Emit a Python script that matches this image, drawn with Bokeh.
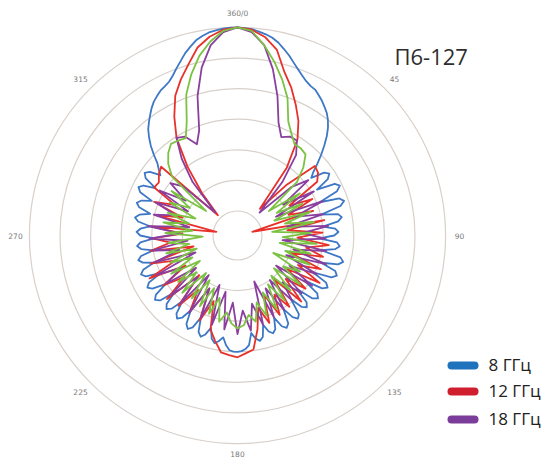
import numpy as np
from bokeh.plotting import figure
from bokeh.models import Range1d
from bokeh.embed import file_html
from bokeh.resources import INLINE
from bokeh.core.properties import value

# ---------------- data (dB) ----------------
# 8 GHz is read at a 2 degree step, the others at a 4 degree step
angles_8ghz = list(range(0, 360, 2))
angles_deg = list(range(0, 360, 4))

gain_8ghz = [
    0, -0.1, -0.2, -0.5, -0.8, -1.2, -1.8, -2.6, -3.4, -4.3,
    -5.1, -5.8, -6.4, -6.8, -7.0, -7.5, -8.0, -8.6, -9.2, -10.0,
    -11.0, -12.2, -13.6, -15.0, -16.4, -17.8, -18.7, -16.5, -15.9, -16.6,
    -19.0, -16.0, -15.4, -16.2, -19.5, -16.3, -15.7, -16.5, -19.9, -17.2,
    -16.7, -17.4, -20.0, -18.0, -17.5, -18.2, -20.6, -17.7, -17.2, -17.9,
    -20.1, -16.8, -16.2, -16.9, -19.6, -17.0, -16.5, -17.2, -20.3, -17.6,
    -17.0, -17.7, -20.8, -17.9, -17.3, -18.0, -21.0, -18.3, -17.7, -18.3,
    -20.4, -17.7, -17.2, -17.9, -19.8, -17.4, -16.9, -17.5, -19.3, -17.5,
    -17.0, -17.5, -18.8, -16.9, -16.4, -16.9, -17.9, -16.0, -15.4, -15.1,
    -15.0, -15.0, -15.2, -16.0, -17.2, -16.5, -16.0, -16.6, -18.3, -17.0,
    -16.4, -17.0, -19.3, -17.3, -16.7, -17.3, -19.6, -17.8, -17.2, -17.8,
    -20.0, -17.9, -17.3, -17.9, -20.2, -17.5, -16.9, -17.5, -19.8, -17.6,
    -17.0, -17.6, -20.1, -17.6, -17.0, -17.6, -19.6, -17.9, -17.3, -17.9,
    -20.0, -18.1, -17.5, -18.1, -20.3, -18.1, -17.5, -18.1, -19.6, -17.6,
    -17.0, -17.6, -19.3, -17.3, -16.7, -17.3, -18.9, -16.6, -16.0, -16.6,
    -18.5, -16.3, -15.7, -16.3, -18.0, -17.2, -16.4, -15.0, -13.6, -12.4,
    -11.3, -10.5, -9.7, -8.9, -8.2, -7.7, -7.2, -6.9, -6.5, -5.8,
    -4.9, -4.0, -3.0, -2.2, -1.4, -0.9, -0.5, -0.3, -0.1, 0,
]

gain_12ghz = [
    0, -0.3, -1.3, -3.0, -6.2, -8.3, -10.6, -12.8, -15.5, -20.3,
    -28.3, -22.6, -17.0, -17.3, -18.3, -24.2, -20.4, -25.0, -21.0, -31.5,
    -19.6, -25.8, -20.1, -24.2, -19.0, -22.6, -19.6, -25.0, -19.3, -23.0,
    -18.5, -24.2, -19.9, -23.4, -19.0, -24.6, -19.6, -22.6, -19.3, -23.4,
    -18.8, -21.7, -18.3, -15.2, -14.7, -14.1, -14.4, -14.7, -16.4, -18.0,
    -22.6, -18.8, -24.2, -19.3, -23.0, -19.0, -25.0, -18.5, -23.0, -19.4,
    -24.2, -18.0, -23.0, -19.1, -26.6, -19.6, -23.0, -20.1, -25.0, -19.8,
    -30.5, -20.1, -24.6, -19.3, -22.6, -18.3, -18.5, -17.7, -17.2, -29.4,
    -25.0, -20.1, -15.2, -12.0, -9.0, -6.9, -4.9, -2.6, -1.2, -0.3,
]

gain_green = [
    0, -0.5, -2.6, -5.0, -7.5, -10.1, -13.6, -15.2, -16.4, -16.4,
    -16.7, -18.5, -20.9, -27.5, -21.7, -26.6, -22.2, -27.5, -21.5, -26.0,
    -21.3, -28.3, -22.0, -26.6, -21.0, -27.0, -21.7, -25.8, -21.3, -27.5,
    -22.2, -25.0, -21.0, -26.0, -21.5, -25.4, -20.9, -24.6, -20.4, -23.8,
    -20.1, -22.6, -19.6, -20.9, -19.3, -18.8, -19.6, -21.3, -19.6, -23.4,
    -20.4, -24.6, -20.9, -25.4, -21.3, -26.0, -21.0, -25.0, -21.7, -26.6,
    -21.5, -25.8, -22.2, -27.0, -22.0, -26.0, -22.6, -28.3, -22.2, -26.6,
    -21.7, -25.8, -22.0, -26.6, -21.7, -25.0, -21.0, -27.5, -19.6, -17.7,
    -16.4, -15.5, -15.7, -16.0, -13.6, -9.5, -6.6, -4.0, -2.0, -0.5,
]

gain_18ghz = [
    0, -0.7, -2.6, -6.2, -10.3, -14.4, -16.4, -15.7, -15.7, -17.7,
    -22.6, -28.8, -22.2, -19.3, -25.0, -19.6, -27.0, -19.0, -24.2, -19.6,
    -25.8, -19.1, -23.4, -19.6, -26.6, -19.3, -24.6, -18.8, -25.4, -19.6,
    -24.2, -19.3, -26.0, -19.9, -23.4, -20.1, -25.0, -19.6, -24.2, -19.3,
    -26.0, -18.8, -22.6, -18.3, -21.7, -17.9, -23.0, -18.5, -24.6, -18.8,
    -25.4, -19.3, -24.2, -19.1, -26.0, -19.6, -24.6, -19.3, -25.4, -19.9,
    -23.4, -19.3, -26.6, -19.6, -24.2, -19.9, -25.8, -19.6, -24.6, -19.3,
    -26.0, -19.9, -23.4, -19.6, -25.0, -19.3, -23.8, -20.1, -22.0, -28.8,
    -22.6, -18.5, -15.2, -15.7, -17.7, -15.7, -10.3, -5.9, -2.6, -0.7,
]

ring_levels_db = [-30, -25, -20, -15, -10, -5, 0]
tick_angles_deg = [0, 45, 90, 135, 180, 225, 270, 315]
tick_labels = ["360/0", "45", "90", "135", "180", "225", "270", "315"]
legend_labels = ["8 ГГц", "12 ГГц", "18 ГГц"]
title_text = "П6-127"

# ---------------- scale ----------------
DB_FLOOR = -34.0
PX_PER_DB = 6.12


def radius(db):
    return (np.asarray(db, dtype=float) - DB_FLOOR) * PX_PER_DB


def to_xy(angles, gains):
    a = np.radians(np.array(list(angles) + [angles[0]], dtype=float))
    r = radius(list(gains) + [gains[0]])
    return r * np.sin(a), r * np.cos(a)


W, H = 547, 459
CX, CY = 237, 235
p = figure(width=W, height=H,
           x_range=Range1d(-CX, W - CX), y_range=Range1d(-(H - CY), CY),
           output_backend="svg", toolbar_location=None, min_border=0,
           x_axis_type=None, y_axis_type=None)
p.grid.visible = False
p.outline_line_color = None
p.background_fill_color = "white"
p.border_fill_color = "white"

# rings
rr = radius(ring_levels_db)
p.circle(x=[0] * len(rr), y=[0] * len(rr), radius=list(rr),
         fill_color=None, line_color="#d8d0ca", line_width=1.2)

# angle labels
lab_r = 222.0
ta = np.radians(tick_angles_deg)
lx = lab_r * np.sin(ta)
ly = np.maximum(lab_r * np.cos(ta), -(H - CY) + 6)
p.text(x=list(lx), y=list(ly), text=tick_labels,
       text_font=value("DejaVu Sans"), text_font_size="7.5px",
       text_color="#7a7a7a", text_align="center", text_baseline="middle")

# patterns
series = [
    (angles_8ghz, gain_8ghz, "#3d78c6"),
    (angles_deg, gain_12ghz, "#e8312a"),
    (angles_deg, gain_18ghz, "#8a3f9f"),
    (angles_deg, gain_green, "#7cc242"),
]
for a, g, c in series:
    x, y = to_xy(a, g)
    p.line(x, y, line_color=c, line_width=1.8, line_join="round")

# title
p.text(x=[157], y=[180], text=[title_text], text_font=value("Open Sans"),
       text_font_size="22px", text_color="#2e2e2e",
       text_align="left", text_baseline="alphabetic")

# legend
legend_colors = ["#1f73bd", "#cf1f2e", "#7b3d99"]
legend_y = [-130, -156, -184]
p.segment(x0=[214] * 3, y0=legend_y, x1=[237] * 3, y1=legend_y,
          line_color=legend_colors, line_width=8, line_cap="round")
p.text(x=[251] * 3, y=[v + 1 for v in legend_y], text=legend_labels,
       text_font=value("Open Sans"), text_font_size="17px",
       text_color="#222222", text_align="left", text_baseline="middle")

open("out.html", "w").write(file_html(p, INLINE))
